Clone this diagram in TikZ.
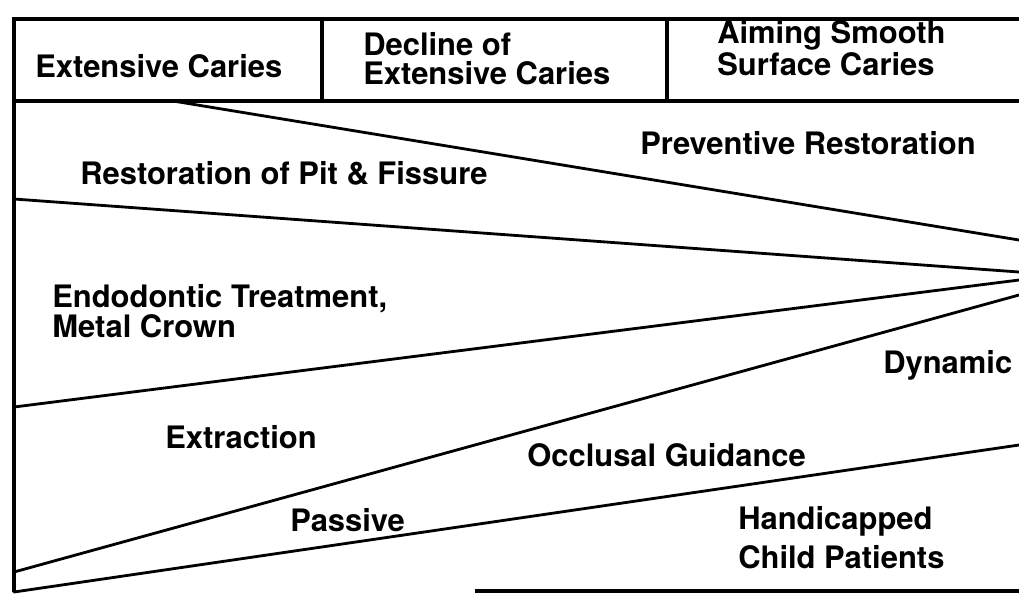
\documentclass[tikz,border=0pt]{standalone}
\usepackage{fontspec}
\setmainfont{TeX Gyre Heros}
\usetikzlibrary{positioning}

\begin{document}
\begin{tikzpicture}[
    x=0.025cm, y=-0.025cm,
    caption/.style={anchor=base west, inner sep=0pt, align=left,
                    font=\bfseries\fontsize{22}{20}\selectfont},
    frame/.style={line width=2.4pt},
    zone/.style={line width=2pt, line cap=round},
  ]
    \useasboundingbox (0,0) rectangle (1019,595);

    % frame and header
    \coordinate (TL) at (14,19);
    \coordinate (TR) at (1019,19);
    \coordinate (HL) at (14,101);
    \coordinate (HR) at (1019,101);
    \coordinate (BL) at (14,592);
    \coordinate (D1t) at (322,19);
    \coordinate (D1b) at (322,101);
    \coordinate (D2t) at (667,19);
    \coordinate (D2b) at (667,101);
    \coordinate (Bs) at (475,591);
    \coordinate (Be) at (1019,591);

    \draw[frame] (TR) -- (TL) -- (BL);
    \draw[frame] (HL) -- (HR);
    \draw[frame] (D1t) -- (D1b);
    \draw[frame] (D2t) -- (D2b);
    \draw[frame] (Bs) -- (Be);

    % zone boundaries
    \coordinate (A1) at (173,101);  \coordinate (A2) at (1019,240);
    \coordinate (B1) at (14,199);   \coordinate (B2) at (1019,272);
    \coordinate (C1) at (14,407);   \coordinate (C2) at (1019,280);
    \coordinate (E1) at (14,572);   \coordinate (E2) at (1019,295);
    \coordinate (F1) at (14,592);   \coordinate (F2) at (1019,445);

    \draw[zone] (A1) -- (A2);
    \draw[zone] (B1) -- (B2);
    \draw[zone] (C1) -- (C2);
    \draw[zone] (E1) -- (E2);
    \draw[zone] (F1) -- (F2);

    % header labels (base = last line)
    \node[caption] (extensive) at (35,77) {Extensive Caries};
    \node[caption] (decline) at (363,84) {Decline of\\Extensive Caries};
    \node[caption] (aiming) at (717,75) {Aiming Smooth\\Surface Caries};

    % zone labels
    \node[caption] (preventive) at (640,154) {Preventive Restoration};
    \node[caption] (pit) at (80,184) {Restoration of Pit \& Fissure};
    \node[caption] (endo) at (52,337) {Endodontic Treatment,\\Metal Crown};
    \node[caption] (dynamic) at (883,373) {Dynamic};
    \node[caption] (extraction) at (165,448) {Extraction};
    \node[caption] (guidance) at (527,466) {Occlusal Guidance};
    \node[caption] (passive) at (290,531) {Passive};
    \node[caption] (handicapped) at (738,568) {Handicapped\\[5pt]Child Patients};
  \end{tikzpicture}
\end{document}
